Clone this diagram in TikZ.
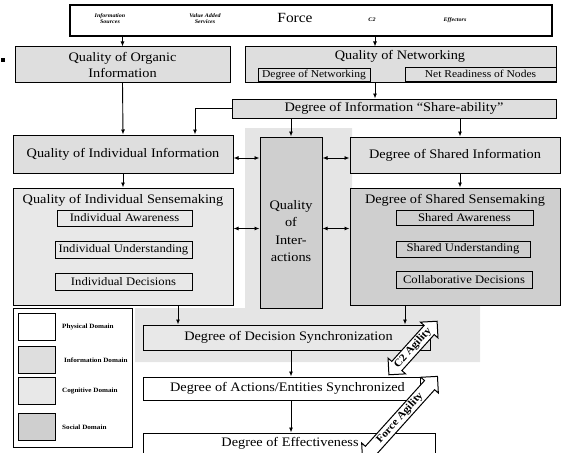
\documentclass[tikz,border=0pt]{standalone}
\usepackage{fontspec}
\setmainfont{Liberation Serif}[FakeStretch=1.1]
\usetikzlibrary{shapes.arrows,arrows.meta}

% domain shadings
\definecolor{physdom}{gray}{1.0}
\definecolor{infodom}{gray}{0.87}
\definecolor{cogdom}{gray}{0.91}
\definecolor{socdom}{gray}{0.81}
\definecolor{socback}{gray}{0.90}

\begin{document}
\begin{tikzpicture}[x=1pt,y=-1pt,
  box/.style={draw, line width=1pt, inner sep=0pt, align=center,
    font=\fontsize{13}{16}\selectfont},
  subbox/.style={draw, line width=0.9pt, inner sep=0pt,
    font=\fontsize{11.5}{13}\selectfont},
  netbox/.style={subbox, font=\fontsize{10.5}{12}\selectfont},
  title/.style={inner sep=0pt, font=\fontsize{13}{16}\selectfont},
  tiny/.style={inner sep=0pt, align=center,
    font=\fontsize{5.5}{6}\selectfont\bfseries\itshape},
  legtext/.style={inner sep=0pt, anchor=west,
    font=\fontsize{6.5}{7}\selectfont\bfseries},
  swatch/.style={draw, line width=0.9pt, minimum width=37pt, minimum height=27pt},
  arr/.style={line width=0.9pt, -{Latex[length=5pt,width=4pt]}},
  darr/.style={line width=0.9pt, {Latex[length=5pt,width=4pt]}-{Latex[length=5pt,width=4pt]}},
  agility/.style={draw, line width=1pt, fill=white, shape=double arrow,
    double arrow head extend=5pt, inner sep=1.5pt, rotate=48,
    font=\fontsize{10.5}{11}\selectfont\bfseries}
]
\useasboundingbox (0,0) rectangle (561,452);
\clip (0,0) rectangle (561,452);

% background of the social domain
\fill[socback] (245,128) -- (352,128) -- (352,305) -- (480,305) -- (480,362)
  -- (135,362) -- (135,308) -- (245,308) -- cycle;

% stray bullet mark
\fill (1,58) rectangle (5,62);

% force (physical domain)
\node[box, line width=2.6pt, minimum width=482pt, minimum height=31pt] (force) at (311,20.5) {};
\node[tiny] (src) at (110,19) {Information\\Sources};
\node[tiny] (vas) at (205,19) {Value Added\\Services};
\node[title, font=\fontsize{14}{16}\selectfont] (forcet) at (295,18) {Force};
\node[tiny] (c2) at (372,20) {C2};
\node[tiny] (eff) at (455,20) {Effectors};

% information domain
\node[box, fill=infodom, minimum width=215pt, minimum height=35pt] (org) at (122.5,64.5)
  {Quality of Organic\\Information};
\node[box, fill=infodom, minimum width=311pt, minimum height=35pt] (net) at (400.5,64.5) {};
\node[title] (nett) at (400,56) {Quality of Networking};
\node[netbox, minimum width=112pt, minimum height=13pt] (dnet) at (314,74.5) {Degree of Networking};
\node[netbox, minimum width=151pt, minimum height=14pt] (nready) at (480.5,74) {Net Readiness of Nodes};
\node[box, fill=infodom, minimum width=324pt, minimum height=19pt] (share) at (394,108.5)
  {Degree of Information “Share-ability”};
\node[box, fill=infodom, minimum width=220pt, minimum height=38pt] (iinfo) at (123,154)
  {Quality of Individual Information};
\node[box, fill=infodom, minimum width=210pt, minimum height=36pt] (sinfo) at (455,155)
  {Degree of Shared Information};

% social domain
\node[box, fill=socdom, minimum width=62pt, minimum height=171pt] (inter) at (291,222.5) {};
\node[title, align=center, font=\fontsize{13}{17.5}\selectfont] (intert) at (291,231)
  {Quality\\of\\Inter-\\actions};
\node[box, fill=socdom, minimum width=210pt, minimum height=117pt] (ssense) at (455,246.5) {};
\node[title] (ssenset) at (455,200) {Degree of Shared Sensemaking};
\node[subbox, minimum width=137pt, minimum height=15pt] (sawa) at (464.5,217.5) {Shared Awareness};
\node[subbox, minimum width=134pt, minimum height=16pt] (sund) at (463,249) {Shared Understanding};
\node[subbox, minimum width=136pt, minimum height=17pt] (cdec) at (464,279.5) {Collaborative Decisions};

% cognitive domain
\node[box, fill=cogdom, minimum width=220pt, minimum height=117pt] (isense) at (123,246.5) {};
\node[title] (isenset) at (123,200) {Quality of Individual Sensemaking};
\node[subbox, minimum width=135pt, minimum height=16pt] (iawa) at (124.5,218) {Individual Awareness};
\node[subbox, minimum width=137pt, minimum height=17pt] (iund) at (123.5,249.5) {Individual Understanding};
\node[subbox, minimum width=137pt, minimum height=17pt] (idec) at (123.5,281.5) {Individual Decisions};
\node[box, fill=cogdom, minimum width=287pt, minimum height=25pt] (dsync) at (286.5,337.5)
  {\hspace*{4pt}Degree of Decision Synchronization};

% physical domain outcomes
\node[box, fill=white, minimum width=277pt, minimum height=23pt] (async) at (281.5,388.5)
  {\hspace*{12pt}Degree of Actions/Entities Synchronized};
\node[box, fill=white, minimum width=292pt, minimum height=37pt] (effct) at (289,451.5) {};
\node[title] (effctt) at (290,443) {Degree of Effectiveness};

% legend
\node[draw, line width=1pt, fill=white, minimum width=119pt, minimum height=139pt] (legend) at (72.5,377.5) {};
\node[swatch, fill=physdom] (lphys) at (36.5,326.5) {};
\node[swatch, fill=infodom] (linfo) at (36.5,360) {};
\node[swatch, fill=cogdom] (lcog) at (36.5,391) {};
\node[swatch, fill=socdom] (lsoc) at (36.5,427) {};
\node[legtext] (tphys) at (62,326.5) {Physical Domain};
\node[legtext] (tinfo) at (64,360) {Information Domain};
\node[legtext] (tcog) at (62,391) {Cognitive Domain};
\node[legtext] (tsoc) at (62,427) {Social Domain};

% columns used by vertical connectors
\coordinate (xnet) at (375,0);
\coordinate (xleft) at (195,0);
\coordinate (xa) at (178,0);
\coordinate (xb) at (405,0);
\coordinate (xm) at (291,0);
\coordinate (xs) at (460,0);

% connectors
\draw[arr] (force.south -| org.north) -- (org.north);
\draw[arr] (force.south -| xnet) -- (net.north -| xnet);
\draw[arr] (net.south -| xnet) -- (share.north -| xnet);
\draw[arr] (org.south) -- (iinfo.north);
\draw[arr] (share.west) -| (iinfo.north -| xleft);
\draw[arr] (share.south -| inter.north) -- (inter.north);
\draw[arr] (share.south -| xs) -- (sinfo.north -| xs);
\draw[darr] ([yshift=-4pt]iinfo.east) -- ([yshift=-4pt]iinfo.east -| inter.west);
\draw[darr] ([yshift=18pt]isense.east) -- ([yshift=18pt]isense.east -| inter.west);
\draw[darr] ([yshift=-3pt]sinfo.west -| inter.east) -- ([yshift=-3pt]sinfo.west);
\draw[darr] ([yshift=18pt]ssense.west -| inter.east) -- ([yshift=18pt]ssense.west);
\draw[arr] (iinfo.south) -- (isense.north);
\draw[arr] (sinfo.south -| xs) -- (ssense.north -| xs);
\draw[arr] (isense.south -| xa) -- (dsync.north -| xa);
\draw[arr] (ssense.south -| xb) -- (dsync.north -| xb);
\draw[arr] (dsync.south -| xm) -- (async.north -| xm);
\draw[arr] (async.south -| xm) -- (effct.north -| xm);

% agility arrows
\node[agility, minimum height=72pt] (c2ag) at (413,348) {C2 Agility};
\node[agility, minimum height=112pt] (fag) at (400,418) {Force Agility};
\end{tikzpicture}
\end{document}
